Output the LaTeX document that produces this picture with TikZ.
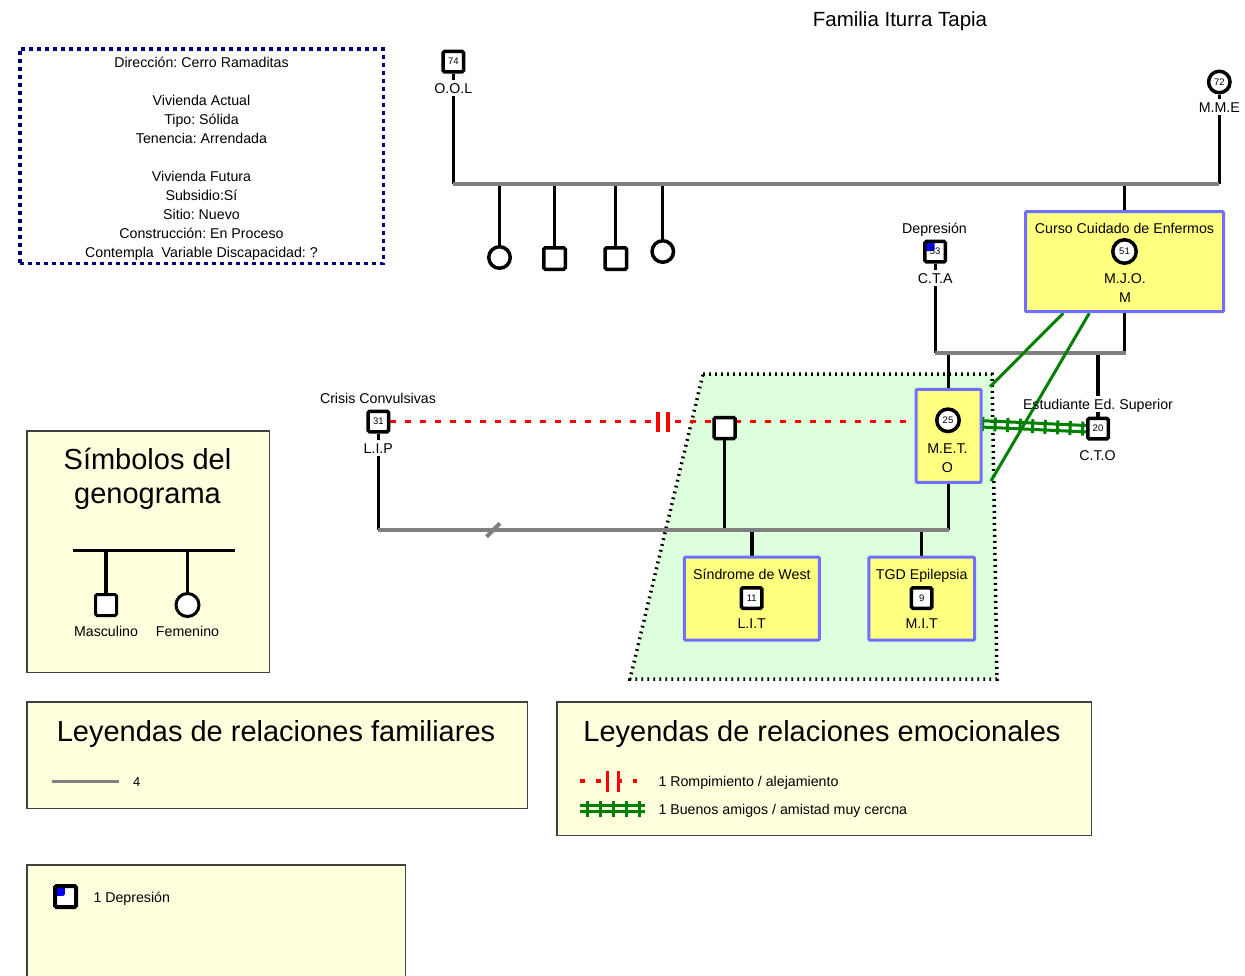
\documentclass[tikz,border=0pt]{standalone}
\usepackage{fontspec}
\setmainfont{Liberation Sans}
\frenchspacing
\usetikzlibrary{calc,decorations.markings}
\pgfdeclarelayer{bg}
\pgfdeclarelayer{edges}
\pgfsetlayers{bg,edges,main}
\definecolor{navyc}{RGB}{0,0,128}
\definecolor{grayl}{RGB}{128,128,128}
\definecolor{boxyel}{RGB}{255,255,128}
\definecolor{boxbl}{RGB}{112,112,255}
\definecolor{greenbg}{RGB}{221,255,221}
\definecolor{legbg}{RGB}{255,255,221}
\definecolor{legbd}{RGB}{64,64,64}
\definecolor{fgreen}{RGB}{0,128,0}
\begin{document}
\begin{tikzpicture}[x=1pt,y=-1pt,
 lbl/.style={inner sep=2.5pt, text height=10.2pt, text depth=0pt, font=\fontsize{14.2}{17}\selectfont},
 numf/.style={font=\fontsize{9.5}{10}\selectfont},
 male/.style={draw, line width=3.5pt, fill=white, rectangle, rounded corners=1.5pt, minimum size=20.5pt, inner sep=0pt, numf},
 female/.style={draw, line width=3.5pt, fill=white, circle, minimum size=22.5pt, inner sep=0pt, numf},
 kid/.style={line width=3.3pt},
 marr/.style={draw=grayl, line width=4pt},
 ybox/.style={draw=boxbl, fill=boxyel, line width=3pt, rounded corners=1pt, inner sep=0pt},
 legbox/.style={draw=legbd, fill=legbg, line width=1.5pt, inner sep=0pt},
 bigt/.style={inner sep=0pt, text height=20.8pt, text depth=0pt, font=\fontsize{29}{34}\selectfont},
 rline/.style={draw=red, line width=3.5pt, dash pattern=on 6pt off 9pt},
 rbar/.style={draw=red, line width=3.5pt},
 fline/.style={draw=fgreen, line width=3pt},
 gline/.style={draw=fgreen, line width=3pt},
 dep/.style={path picture={\fill[blue] (path picture bounding box.north west) rectangle ++(9.75pt,-9.75pt);}},
]
\useasboundingbox (0,0) rectangle (1245,975);
\begin{pgfonlayer}{bg}
\fill[white] (0,0) rectangle (1245,975);
\fill[greenbg] (703,374) -- (992,374) -- (997,679) -- (630,679) -- cycle;
\draw[line width=3.5pt, dash pattern=on 1.8pt off 4.2pt] (703,374) -- (992,374) -- (997,679) -- (630,679) -- cycle;
\end{pgfonlayer}

% title
\node[inner sep=0pt, font=\fontsize{20.5}{24}\selectfont] (title) at (900,21) {Familia Iturra Tapia};

% info box
\node[draw=navyc, line width=3.5pt, dash pattern=on 4pt off 4pt, minimum width=363.5pt, minimum height=214.5pt, inner sep=0pt] (info) at (201.5,156) {};
\node[align=center, inner sep=0pt, font=\fontsize{14.2}{19}\selectfont] (info-t) at (201.5,159) {Dirección: Cerro Ramaditas\\[19pt]Vivienda Actual\\Tipo: Sólida\\Tenencia: Arrendada\\[19pt]Vivienda Futura\\Subsidio:Sí\\Sitio: Nuevo\\Construcción: En Proceso\\Contempla\ \ Variable Discapacidad: ?};

% generation 1
\node[male] (ool) at (453.3,61.7) {74};
\node[lbl] (ool-l) at (453.3,88) {O.O.L};
\node[female, minimum size=21.5pt] (mme) at (1219.3,82) {72};
\node[lbl] (mme-l) at (1219.3,107) {M.M.E};
\coordinate (m1a) at (453.3,183.7);
\coordinate (m1b) at (1219.3,183.7);

\node[female, minimum size=21.5pt] (c1) at (499.5,257.5) {};
\node[male, minimum size=21.5pt] (c2) at (554.5,258.5) {};
\node[male, minimum size=21.5pt] (c3) at (615.8,258.5) {};
\node[female, minimum size=21.5pt] (c4) at (662.8,251.5) {};

% M.J.O.
\node[ybox, minimum width=198pt, minimum height=100pt] (mjobox) at (1124.5,261.7) {};
\node[lbl] (mjo-t) at (1124.5,228) {Curso Cuidado de Enfermos};
\node[female, minimum size=23.5pt] (mjo) at (1124.5,251.5) {51};
\node[lbl] (mjo-l) at (1125,278) {M.J.O.};
\node[lbl] (mjo-l2) at (1125,297) {M};

% C.T.A
\node[lbl] (cta-t) at (934.5,228) {Depresión};
\node[male, dep] (cta) at (935.2,251.7) {53};
\node[lbl] (cta-l) at (935.2,278) {C.T.A};
\coordinate (m2a) at (935.2,353.3);
\coordinate (m2b) at (1125.5,353.3);

% M.E.T.
\node[ybox, minimum width=65pt, minimum height=93pt] (metbox) at (948.7,435.9) {};
\node[female, minimum size=22.5pt] (met) at (948,420.3) {25};
\node[lbl] (met-l) at (947.5,448) {M.E.T.};
\node[lbl] (met-l2) at (947.5,467) {O};

% C.T.O
\node[lbl] (cto-t) at (1098,404) {Estudiante Ed. Superior};
\node[male] (cto) at (1098,428.7) {20};
\node[lbl] (cto-l) at (1097.5,455) {C.T.O};

% L.I.P
\node[lbl] (lip-t) at (378,398) {Crisis Convulsivas};
\node[male] (lip) at (378.3,421.5) {31};
\node[lbl] (lip-l) at (378.3,448) {L.I.P};
\coordinate (m3a) at (378.3,530);
\coordinate (m3b) at (948.7,530);
\coordinate (sep) at (493.3,530);

\node[male, minimum size=21pt] (u) at (724.7,428) {};

% children boxes
\node[ybox, minimum width=135pt, minimum height=83pt] (swbox) at (751.9,598.7) {};
\node[lbl] (sw-t) at (751.9,574) {Síndrome de West};
\node[male] (lit) at (751.7,598) {11};
\node[lbl] (lit-l) at (751.7,623) {L.I.T};

\node[ybox, minimum width=105.7pt, minimum height=83pt] (tgdbox) at (921.7,598.7) {};
\node[lbl] (tgd-t) at (921.7,574) {TGD Epilepsia};
\node[male] (mit) at (921.7,598) {9};
\node[lbl] (mit-l) at (921.7,623) {M.I.T};

\coordinate (g1) at (990,386.7);
\coordinate (g2) at (991,481);
\coordinate (brk) at (663,422);
\coordinate (fa) at ($(metbox.east)+(0,-12)$);

\begin{pgfonlayer}{edges}
% gen 1 lines
\draw[kid] (ool) -- (ool-l);
\draw[kid] (ool-l) -- (m1a);
\draw[kid] (mme) -- (mme-l);
\draw[kid] (mme-l) -- (m1b);
\draw[kid] (c1) -- (c1 |- m1a);
\draw[kid] (c2) -- (c2 |- m1a);
\draw[kid] (c3) -- (c3 |- m1a);
\draw[kid] (c4) -- (c4 |- m1a);
\draw[kid] (mjobox) -- (mjobox |- m1a);
\draw[marr] (m1a) -- (m1b);
% gen 2 lines
\draw[kid] (cta) -- (cta-l);
\draw[kid] (cta-l) -- (m2a);
\draw[kid] (mjobox) -- (mjobox |- m2a);
\draw[kid] (metbox) -- (metbox |- m2a);
\draw[kid] (cto-t) -- (cto-t |- m2a);
\draw[kid] (cto) -- (cto-t);
\draw[marr] (m2a) -- (m2b);
% gen 3 lines
\draw[kid] (lip) -- (lip-l);
\draw[kid] (lip-l) -- (m3a);
\draw[kid] (metbox) -- (metbox |- m3a);
\draw[kid] (u) -- (u |- m3a);
\draw[kid] (swbox) -- (swbox |- m3a);
\draw[kid] (tgdbox) -- (tgdbox |- m3a);
\draw[marr] (m3a) -- (m3b);
\draw[marr] ($(sep)+(-6.7,6.7)$) -- ($(sep)+(6.7,-6.7)$);
% rupture
\draw[rline] (lip) -- (lip -| metbox.west);
\fill[white] ($(brk)+(-4,-3)$) rectangle ($(brk)+(4,3)$);
\draw[rbar] ($(brk)+(-5,-10)$) -- ($(brk)+(-5,10)$);
\draw[rbar] ($(brk)+(5,-10)$) -- ($(brk)+(5,10)$);
% friendship
\draw[gline] ($(mjobox.south)+(-61.2,0)$) -- (g1);
\draw[gline] ($(mjobox.south)+(-35.2,0)$) -- (g2);
\draw[fline, transform canvas={yshift=3.2pt}] (fa) -- (cto.west);
\draw[fline, transform canvas={yshift=-3.2pt}] (fa) -- (cto.west);
\path[postaction={decorate}, decoration={markings, mark=between positions 0 and 1 step 12.5pt with {\draw[fline] (0,-7pt) -- (0,7pt);}}] (fa) -- (cto.west);
\end{pgfonlayer}

% legend: symbols
\node[legbox, minimum width=242.5pt, minimum height=241.5pt] (symbox) at (148,551.5) {};
\node[bigt] (symt1) at (147.5,459) {Símbolos del};
\node[bigt] (symt2) at (147.5,493) {genograma};
\coordinate (sl1) at (73,550.5);
\coordinate (sl2) at (235,550.5);
\node[male, minimum size=21pt, line width=3pt] (sym-m) at (106,605) {};
\node[female, minimum size=23pt, line width=3pt] (sym-f) at (187.5,605) {};
\draw[line width=3.5pt] (sl1) -- (sl2);
\draw[kid] (sym-m) -- (sym-m |- sl1);
\draw[kid] (sym-f) -- (sym-f |- sl1);
\node[lbl] (sym-ml) at (106,631) {Masculino};
\node[lbl] (sym-fl) at (187.5,631) {Femenino};

% legend: family relations
\node[legbox, minimum width=500.5pt, minimum height=106.5pt] (fambox) at (277,755) {};
\node[bigt] (famt) at (276,731) {Leyendas de relaciones familiares};
\coordinate (fl1) at (52,781.7);
\coordinate (fl2) at (119,781.7);
\draw[marr, line width=3.5pt] (fl1) -- (fl2);
\node[inner sep=0pt, font=\fontsize{13}{14}\selectfont] (famn) at (136.7,782) {4};

% legend: emotional relations
\node[legbox, minimum width=534.5pt, minimum height=133.5pt] (emobox) at (824,768.5) {};
\node[bigt] (emot) at (822,731) {Leyendas de relaciones emocionales};
\draw[draw=red, line width=4pt] (580,781.3) -- (585,781.3) (595.7,781.3) -- (600.7,781.3) (619,781.3) -- (622,781.3) (633.3,781.3) -- (637.3,781.3);
\draw[rbar] (607.7,771) -- (607.7,791.7) (618.3,771) -- (618.3,791.7);
\node[lbl, anchor=west, inner sep=0pt] (emo1) at (658.3,781.7) {1 Rompimiento / alejamiento};
\coordinate (el1) at (580,808.5);
\coordinate (el2) at (645,808.5);
\draw[fline, transform canvas={yshift=3.2pt}] (el1) -- (el2);
\draw[fline, transform canvas={yshift=-3.2pt}] (el1) -- (el2);
\path[postaction={decorate}, decoration={markings, mark=between positions 7pt and 1 step 13.2pt with {\draw[fline] (0,-8pt) -- (0,8pt);}}] (el1) -- (el2);
\node[lbl, anchor=west, inner sep=0pt] (emo2) at (658.3,809) {1 Buenos amigos / amistad muy cercna};

% legend: depression
\fill[legbg] (26,864) rectangle (406,976);
\draw[legbd, line width=1.5pt] (26.75,976) -- (26.75,864.75) -- (405.25,864.75) -- (405.25,976);
\node[male, dep, line width=4pt, minimum size=21pt] (deplg) at (65.5,896.5) {};
\node[lbl, anchor=west, inner sep=0pt] (depl) at (93.3,897.7) {1 Depresión};
\end{tikzpicture}
\end{document}
